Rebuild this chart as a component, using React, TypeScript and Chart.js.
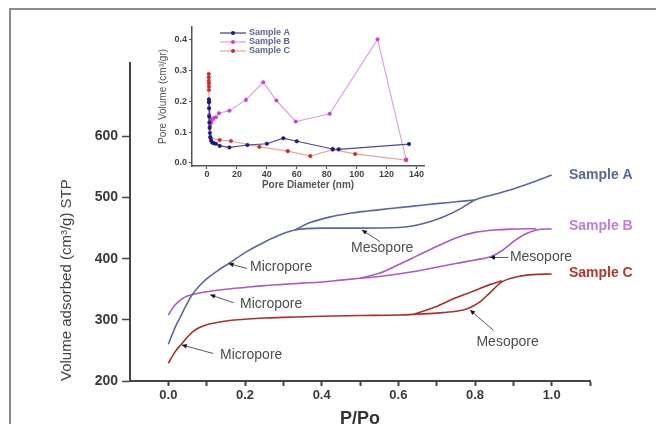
import React, { useEffect, useRef } from 'react';
import { Chart, registerables } from 'chart.js';

Chart.register(...registerables);

const FONT = "'Liberation Sans', Arial, Helvetica, sans-serif";

// ---------- Main isotherm data (P/Po vs Volume adsorbed) ----------
const pA_ads = [0, 0.01, 0.02, 0.03, 0.045, 0.06, 0.08, 0.1, 0.13, 0.16, 0.2, 0.25, 0.3, 0.33, 0.4, 0.5, 0.6, 0.64, 0.68, 0.72, 0.76, 0.8, 0.85, 0.9, 0.95, 1.0];
const vA_ads = [260, 276, 291, 303, 322, 339, 355, 367, 381, 393, 410, 427, 441, 447, 450, 450, 451, 454, 460, 469, 481, 496, 505, 514, 525, 537];
const pA_des = [0.33, 0.37, 0.42, 0.47, 0.52, 0.58, 0.64, 0.7, 0.75, 0.8];
const vA_des = [447, 459, 468, 474, 478, 482, 486, 490, 493, 496];

const pB_ads = [0, 0.01, 0.02, 0.035, 0.05, 0.075, 0.1, 0.15, 0.2, 0.25, 0.3, 0.35, 0.4, 0.45, 0.5, 0.55, 0.6, 0.65, 0.7, 0.75, 0.8, 0.84, 0.87, 0.9, 0.93, 0.96, 1.0];
const vB_ads = [308, 318, 326, 334, 339, 343, 346, 350, 353, 356, 358, 360, 362, 365, 368, 371, 375, 380, 386, 392, 398, 403, 413, 428, 440, 447, 449];
const pB_des = [0.5, 0.55, 0.6, 0.65, 0.7, 0.75, 0.8, 0.85, 0.9, 0.96];
const vB_des = [368, 376, 390, 405, 420, 434, 443, 447, 448.5, 449];

const pC_ads = [0, 0.01, 0.02, 0.035, 0.05, 0.065, 0.08, 0.1, 0.13, 0.16, 0.2, 0.25, 0.3, 0.4, 0.5, 0.6, 0.64, 0.7, 0.75, 0.78, 0.81, 0.84, 0.87, 0.9, 0.95, 1.0];
const vC_ads = [229, 240, 250, 261, 272, 281, 287, 292, 296, 299, 301, 303, 304, 306, 307, 308, 309, 311, 314, 318, 328, 345, 362, 369, 374, 375];
const pC_des = [0.64, 0.7, 0.75, 0.8, 0.84, 0.87];
const vC_des = [309, 322, 336, 348, 358, 364];

const sampleNames = ['Sample A', 'Sample B', 'Sample C'];
const sampleLineColors = ['#5b6797', '#a65bc6', '#a3332e'];
const sampleTextColors = ['#5a6899', '#c07fd8', '#b5372f'];
const sampleLabelValues = [537, 454, 376];

// annotation notes: arrow tip, arrow tail and text anchor in data units
const noteTexts = ['Micropore', 'Mesopore', 'Micropore', 'Mesopore', 'Micropore', 'Mesopore'];
const noteTips = [[0.157, 392], [0.505, 447], [0.109, 341], [0.839, 402], [0.035, 259], [0.787, 316]];
const noteTails = [[0.205, 384], [0.552, 428], [0.17, 328], [0.887, 402], [0.117, 245], [0.848, 283]];
const noteAnchors = [[0.213, 387], [0.558, 417], [0.187, 326], [0.891, 403], [0.135, 242.5], [0.885, 264]];
const noteAlign = ['left', 'center', 'left', 'left', 'left', 'center'];

// ---------- Inset data (Pore diameter vs pore volume) ----------
const insetAx = [1.3, 1.3, 1.4, 1.5, 1.6, 1.8, 2.0, 2.2, 2.8, 3.5, 4.5, 6, 8.5, 15, 27, 40, 51, 60, 84, 88, 135];
const insetAy = [0.206, 0.196, 0.177, 0.15, 0.131, 0.113, 0.097, 0.084, 0.072, 0.066, 0.064, 0.062, 0.055, 0.05, 0.058, 0.062, 0.08, 0.07, 0.045, 0.044, 0.061];
const insetBx = [1.5, 2.2, 2.8, 3.5, 4.5, 6, 8, 15, 26, 37.6, 46.4, 59.3, 82, 114, 133];
const insetBy = [0.155, 0.14, 0.13, 0.14, 0.145, 0.148, 0.161, 0.169, 0.204, 0.261, 0.202, 0.134, 0.159, 0.4, 0.011];
const insetCx = [1.2, 1.2, 1.2, 1.3, 1.3, 1.3, 1.5, 2, 2.5, 8.5, 16, 35, 54, 69, 84, 99, 133];
const insetCy = [0.288, 0.277, 0.266, 0.258, 0.247, 0.236, 0.2, 0.12, 0.08, 0.074, 0.071, 0.052, 0.038, 0.022, 0.043, 0.029, 0.009];
const insetLineColors = ['#4a4c8c', '#dba6de', '#e9a898'];
const insetPointColors = ['#1b1b7c', '#c844d0', '#cc2c2c'];

const pts = (xs: number[], ys: number[]) => xs.map((x, i) => ({ x, y: ys[i] }));

const mainNotesPlugin = {
  id: 'mainNotes',
  afterDatasetsDraw(chart: any) {
    const { ctx, scales } = chart;
    const x = scales.x, y = scales.y;
    ctx.save();
    for (let i = 0; i < noteTexts.length; i++) {
      const tx = x.getPixelForValue(noteTips[i][0]);
      const ty = y.getPixelForValue(noteTips[i][1]);
      const sx = x.getPixelForValue(noteTails[i][0]);
      const sy = y.getPixelForValue(noteTails[i][1]);
      ctx.strokeStyle = '#5a5a5a';
      ctx.lineWidth = 1;
      ctx.beginPath();
      ctx.moveTo(sx, sy);
      ctx.lineTo(tx, ty);
      ctx.stroke();
      const a = Math.atan2(ty - sy, tx - sx);
      const L = 5, W = 2.3;
      const c = Math.cos(a), s = Math.sin(a);
      ctx.fillStyle = '#111';
      ctx.beginPath();
      ctx.moveTo(tx, ty);
      ctx.lineTo(tx - L * c + W * s, ty - L * s - W * c);
      ctx.lineTo(tx - L * c - W * s, ty - L * s + W * c);
      ctx.closePath();
      ctx.fill();
      ctx.font = `14px ${FONT}`;
      ctx.fillStyle = '#4e4e4e';
      ctx.textAlign = noteAlign[i] as CanvasTextAlign;
      ctx.textBaseline = 'middle';
      ctx.fillText(noteTexts[i], x.getPixelForValue(noteAnchors[i][0]), y.getPixelForValue(noteAnchors[i][1]));
    }
    ctx.font = `bold 14px ${FONT}`;
    ctx.textAlign = 'left';
    ctx.textBaseline = 'middle';
    for (let i = 0; i < sampleNames.length; i++) {
      ctx.fillStyle = sampleTextColors[i];
      ctx.fillText(sampleNames[i], x.getPixelForValue(1.045), y.getPixelForValue(sampleLabelValues[i]));
    }
    ctx.restore();
  },
};

const insetLegendPlugin = {
  id: 'insetLegend',
  afterDraw(chart: any) {
    const { ctx, chartArea } = chart;
    ctx.save();
    chart.data.datasets.forEach((d: any, i: number) => {
      const yy = chartArea.top + 6 + i * 9;
      const x0 = chartArea.left + 28;
      ctx.strokeStyle = d.borderColor;
      ctx.lineWidth = 1.3;
      ctx.beginPath();
      ctx.moveTo(x0, yy);
      ctx.lineTo(x0 + 26, yy);
      ctx.stroke();
      ctx.fillStyle = d.pointBackgroundColor;
      ctx.beginPath();
      ctx.arc(x0 + 13, yy, 2, 0, Math.PI * 2);
      ctx.fill();
      ctx.font = `bold 9px ${FONT}`;
      ctx.fillStyle = '#5d6690';
      ctx.textAlign = 'left';
      ctx.textBaseline = 'middle';
      ctx.fillText(d.label, x0 + 29, yy);
    });
    ctx.restore();
  },
};

function mainLine(label: string, xs: number[], ys: number[], color: string) {
  return {
    label,
    data: pts(xs, ys),
    borderColor: color,
    backgroundColor: color,
    borderWidth: 1.6,
    pointRadius: 0,
    showLine: true,
    fill: false,
    cubicInterpolationMode: 'monotone',
  };
}

export default function App() {
  const mainRef = useRef<HTMLCanvasElement>(null);
  const insetRef = useRef<HTMLCanvasElement>(null);

  useEffect(() => {
    const mainChart = new Chart(mainRef.current as HTMLCanvasElement, {
      type: 'scatter',
      data: {
        datasets: [
          mainLine('Sample A adsorption', pA_ads, vA_ads, sampleLineColors[0]),
          mainLine('Sample A desorption', pA_des, vA_des, sampleLineColors[0]),
          mainLine('Sample B adsorption', pB_ads, vB_ads, sampleLineColors[1]),
          mainLine('Sample B desorption', pB_des, vB_des, sampleLineColors[1]),
          mainLine('Sample C adsorption', pC_ads, vC_ads, sampleLineColors[2]),
          mainLine('Sample C desorption', pC_des, vC_des, sampleLineColors[2]),
        ] as any,
      },
      options: {
        responsive: false,
        animation: false,
        maintainAspectRatio: false,
        layout: { padding: { left: 10, top: 63, right: 66, bottom: 0 } },
        plugins: { legend: { display: false }, tooltip: { enabled: false } },
        scales: {
          x: {
            type: 'linear',
            min: -0.1,
            max: 1.1,
            afterFit: (s: any) => { s.height = 43; },
            afterBuildTicks: (s: any) => { s.ticks = s.ticks.filter((t: any) => t.value > -0.05); },
            ticks: {
              stepSize: 0.1,
              padding: 2,
              autoSkip: false,
              maxRotation: 0,
              color: '#3a3a3a',
              font: { family: FONT, size: 13, weight: 'bold' },
              callback: (v: any) => {
                const k = Math.round(Number(v) * 10);
                return k % 2 === 0 && k >= 0 && k <= 10 ? (k / 10).toFixed(1) : '';
              },
            },
            grid: { display: true, drawOnChartArea: false, drawTicks: true, tickLength: 5, tickWidth: 2, tickColor: '#444' },
            border: { display: true, color: '#444', width: 2 },
            title: { display: true, text: 'P/Po', color: '#333', font: { family: FONT, size: 18, weight: 'bold' }, padding: { top: 0, bottom: -6 } },
          },
          y: {
            type: 'linear',
            min: 200,
            max: 720,
            afterFit: (s: any) => { s.width = 120; },
            afterBuildTicks: (s: any) => { s.ticks = s.ticks.filter((t: any) => t.value <= 600); },
            ticks: { stepSize: 100, padding: 4, color: '#3a3a3a', font: { family: FONT, size: 14, weight: 'bold' } },
            grid: { display: true, drawOnChartArea: false, drawTicks: true, tickLength: 8, tickWidth: 1.5, tickColor: '#444' },
            border: { display: true, color: '#444', width: 2 },
            title: { display: true, text: 'Volume adsorbed (cm³/g) STP', align: 'start', color: '#444', font: { family: FONT, size: 15 }, padding: { top: 48, bottom: 0 } },
          },
        },
      } as any,
      plugins: [mainNotesPlugin],
    });

    const insetSet = (label: string, xs: number[], ys: number[], i: number) => ({
      label,
      data: pts(xs, ys),
      showLine: true,
      borderColor: insetLineColors[i],
      borderWidth: 1.2,
      pointBackgroundColor: insetPointColors[i],
      pointBorderColor: insetPointColors[i],
      pointRadius: 1.8,
      pointBorderWidth: 0.5,
      fill: false,
      tension: 0,
    });

    const insetChart = new Chart(insetRef.current as HTMLCanvasElement, {
      type: 'scatter',
      data: {
        datasets: [
          insetSet('Sample A', insetAx, insetAy, 0),
          insetSet('Sample B', insetBx, insetBy, 1),
          insetSet('Sample C', insetCx, insetCy, 2),
        ] as any,
      },
      options: {
        responsive: false,
        animation: false,
        maintainAspectRatio: false,
        layout: { padding: { left: 150, top: 27, right: 232, bottom: 234 } },
        plugins: { legend: { display: false }, tooltip: { enabled: false } },
        scales: {
          x: {
            type: 'linear',
            min: -10,
            max: 145,
            afterFit: (s: any) => { s.height = 24; },
            afterBuildTicks: (s: any) => { s.ticks = s.ticks.filter((t: any) => t.value >= -0.001 && t.value <= 140.001); },
            ticks: { stepSize: 20, includeBounds: false, padding: 0, autoSkip: false, maxRotation: 0, color: '#444', font: { family: FONT, size: 9, weight: 'bold' } },
            grid: { display: true, drawOnChartArea: false, drawTicks: true, tickLength: 3, tickWidth: 1.2, tickColor: '#555' },
            border: { display: true, color: '#555', width: 1.5 },
            title: { display: true, text: 'Pore Diameter (nm)', color: '#555', font: { family: FONT, size: 10, weight: 'bold' }, padding: { top: 0, bottom: -1 } },
          },
          y: {
            type: 'linear',
            min: -0.01,
            max: 0.44,
            afterFit: (s: any) => { s.width = 42; },
            afterBuildTicks: (s: any) => { s.ticks = s.ticks.filter((t: any) => t.value >= -0.001 && t.value <= 0.401); },
            ticks: { stepSize: 0.1, includeBounds: false, padding: 2, color: '#444', font: { family: FONT, size: 9, weight: 'bold' }, callback: (v: any) => Number(v).toFixed(1) },
            grid: { display: true, drawOnChartArea: false, drawTicks: true, tickLength: 3, tickWidth: 1.2, tickColor: '#555' },
            border: { display: true, color: '#555', width: 1.5 },
            title: { display: true, text: 'Pore Volume (cm³/gr)', color: '#555', font: { family: FONT, size: 10 }, padding: { top: 7, bottom: 0 } },
          },
        },
      } as any,
      plugins: [insetLegendPlugin],
    });

    return () => {
      mainChart.destroy();
      insetChart.destroy();
    };
  }, []);

  return (
    <div style={{ position: 'fixed', left: 0, top: 0, width: 656, height: 424, background: '#ffffff', overflow: 'hidden' }}>
      <div style={{ position: 'absolute', left: 9, top: 8, width: 647, height: 416, boxSizing: 'border-box', borderTop: '2px solid #8c8c8c', borderLeft: '2px solid #8c8c8c' }} />
      <canvas ref={mainRef} width={656} height={424} style={{ position: 'absolute', left: 0, top: 0 }} />
      <canvas ref={insetRef} width={656} height={424} style={{ position: 'absolute', left: 0, top: 0 }} />
    </div>
  );
}
